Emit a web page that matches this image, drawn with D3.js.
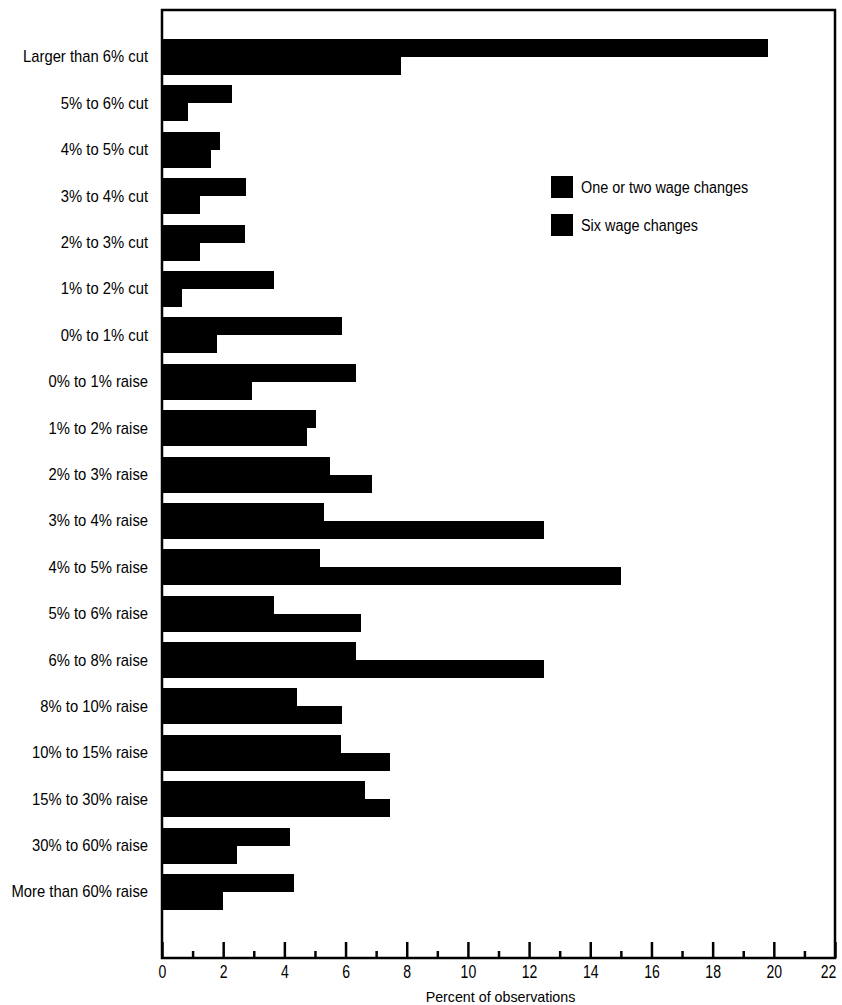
<!DOCTYPE html>
<html>
<head>
<meta charset="utf-8">
<script src="https://cdn.jsdelivr.net/npm/d3@7"></script>
<style>
  body { margin: 0; background: #fff; }
  text { font-family: "Liberation Sans", Arial, sans-serif; fill: #000; }
</style>
</head>
<body>
<div id="chart"></div>
<script>
// wage change bins, top to bottom
var categories = ["Larger than 6% cut", "5% to 6% cut", "4% to 5% cut", "3% to 4% cut",
    "2% to 3% cut", "1% to 2% cut", "0% to 1% cut", "0% to 1% raise", "1% to 2% raise",
    "2% to 3% raise", "3% to 4% raise", "4% to 5% raise", "5% to 6% raise", "6% to 8% raise",
    "8% to 10% raise", "10% to 15% raise", "15% to 30% raise", "30% to 60% raise",
    "More than 60% raise"]

var series = ["One or two wage changes", "Six wage changes"]

// percent of observations
var oneOrTwo = [19.8, 2.3, 1.9, 2.75, 2.7, 3.65, 5.9, 6.35, 5.05, 5.5, 5.3, 5.15, 3.65, 6.35, 4.4, 5.85, 6.65, 4.2, 4.3]
var six = [7.8, 0.85, 1.6, 1.25, 1.25, 0.65, 1.8, 2.95, 4.75, 6.85, 12.5, 15.0, 6.5, 12.5, 5.9, 7.45, 7.45, 2.45, 2.0]

var majorTicks = [0, 2, 4, 6, 8, 10, 12, 14, 16, 18, 20, 22]
var minorTicks = [1, 3, 5, 7, 9, 11, 13, 15, 17, 19, 21]

var width = 842, height = 1005
var plotLeft = 162, plotRight = 835, plotTop = 10, plotBottom = 958

// squeeze text horizontally to mimic the condensed face of the original
function condense(sel, k) {
    sel.each(function () {
        var w = this.getComputedTextLength()
        d3.select(this).attr("textLength", w * k).attr("lengthAdjust", "spacingAndGlyphs")
    })
}

var svg = d3.select("#chart").append("svg")
    .attr("width", width)
    .attr("height", height)

var x = d3.scaleLinear().domain([0, 22]).range([plotLeft, plotRight])

var y = d3.scaleBand()
    .domain(categories)
    .range([33.8, 915.2])
    .paddingInner(0.224)
    .paddingOuter(0.112)

var ySub = d3.scaleBand().domain(series).rangeRound([0, Math.round(y.bandwidth())])

var rows = categories.map(function (c, i) {
    return {name: c, values: [oneOrTwo[i], six[i]]}
})

// bars
var row = svg.selectAll(".row")
    .data(rows)
    .enter().append("g")
    .attr("class", "row")
    .attr("transform", function (d) { return "translate(0," + Math.round(y(d.name)) + ")" })

row.selectAll("rect")
    .data(function (d) {
        return d.values.map(function (v, j) { return {s: series[j], v: v} })
    })
    .enter().append("rect")
    .attr("x", x(0))
    .attr("y", function (d) { return ySub(d.s) })
    .attr("width", function (d) { return x(d.v) - x(0) })
    .attr("height", ySub.bandwidth())
    .attr("fill", "#000")
    .attr("shape-rendering", "crispEdges")

// frame
svg.append("rect")
    .attr("x", plotLeft)
    .attr("y", plotTop)
    .attr("width", plotRight - plotLeft)
    .attr("height", plotBottom - plotTop)
    .attr("fill", "none")
    .attr("stroke", "#000")
    .attr("stroke-width", 2.5)

// x axis, ticks point inward
var xAxis = svg.append("g")
    .attr("transform", "translate(0," + plotBottom + ")")
    .call(d3.axisBottom(x).tickValues(majorTicks).tickSize(-16).tickPadding(7).tickFormat(d3.format("d")))
xAxis.select(".domain").remove()
xAxis.selectAll(".tick line").attr("stroke-width", 2.5)
xAxis.selectAll("text").attr("font-size", 18).attr("font-family", null).attr("dy", "0.72em").call(condense, 0.78)
xAxis.selectAll(".tick:last-child text").attr("dx", -7)

var xMinor = svg.append("g")
    .attr("transform", "translate(0," + plotBottom + ")")
    .call(d3.axisBottom(x).tickValues(minorTicks).tickSize(-7).tickFormat(""))
xMinor.select(".domain").remove()
xMinor.selectAll(".tick line").attr("stroke-width", 2.5)

svg.append("text")
    .attr("x", (plotLeft + plotRight) / 2 + 2)
    .attr("y", 1002)
    .attr("text-anchor", "middle")
    .attr("font-size", 15)
    .text("Percent of observations")
    .call(condense, 0.95)

// y axis labels
var yAxis = svg.append("g")
    .attr("transform", "translate(" + plotLeft + ",0)")
    .call(d3.axisLeft(y).tickSize(0).tickPadding(14))
yAxis.select(".domain").remove()
yAxis.selectAll("text").attr("font-size", 17).attr("font-family", null).call(condense, 0.87)

// legend
var legend = svg.selectAll(".legend")
    .data(series)
    .enter().append("g")
    .attr("class", "legend")
    .attr("transform", function (d, i) { return "translate(551," + (176 + i * 38) + ")" })

legend.append("rect")
    .attr("width", 22)
    .attr("height", 22)
    .attr("fill", "#000")

legend.append("text")
    .attr("x", 30)
    .attr("y", 17)
    .attr("font-size", 16)
    .text(function (d) { return d })
    .call(condense, 0.9)
</script>
</body>
</html>
